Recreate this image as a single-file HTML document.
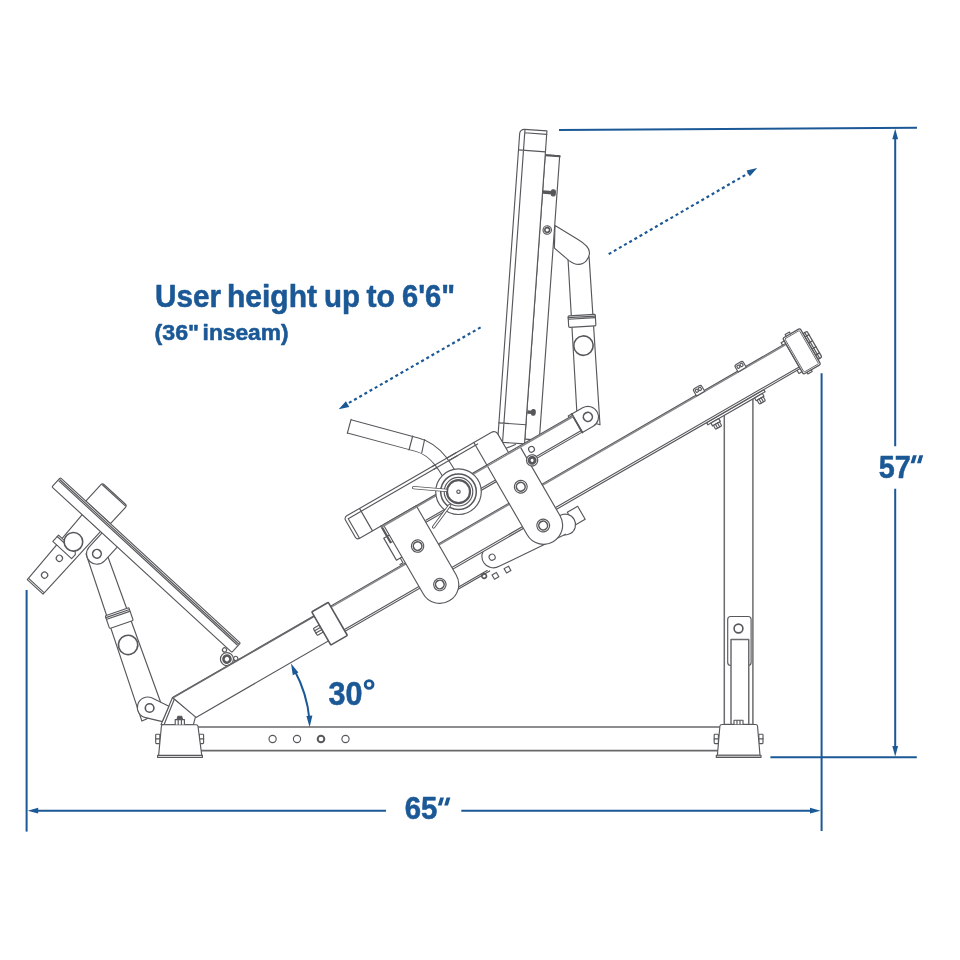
<!DOCTYPE html>
<html>
<head>
<meta charset="utf-8">
<title>Leg press dimensions</title>
<style>
html,body{margin:0;padding:0;background:#fff;}
body{width:960px;height:960px;overflow:hidden;font-family:"Liberation Sans",sans-serif;}
svg{display:block;will-change:transform;}
.g{stroke:#57585c;stroke-width:1.15;fill:#fff;stroke-linejoin:round;stroke-linecap:round;}
.n{fill:none;}
.t{stroke-width:1.6;}
.d{fill:#55565a;}
.b{stroke:#1b5896;stroke-width:2;fill:none;}
.bf{fill:#1b5896;stroke:none;}
text{font-family:"Liberation Sans",sans-serif;font-weight:bold;fill:#1b5896;stroke:#1b5896;stroke-width:.55;stroke-linejoin:round;}
</style>
</head>
<body>
<svg width="960" height="960" viewBox="0 0 960 960">
<rect width="960" height="960" fill="#fff"/>

<!-- ================= MACHINE ================= -->
<g class="g" id="machine">

<!-- base tube -->
<g id="base">
<rect x="196" y="727" width="527" height="23.7" style="stroke-width:1.7;stroke:#68686b"/>
<circle cx="272.6" cy="739" r="3.6"/><circle cx="297" cy="739" r="3.6"/>
<circle cx="321" cy="739" r="3.3" style="stroke-width:2"/><circle cx="345.5" cy="739" r="3.6"/>
</g>

<!-- rear upright -->
<g id="upright">
<path d="M724.3,724.4V412L752.9,395.5V724.4Z" style="stroke-width:1.5;stroke:#6c6c6f"/>
<rect x="727.7" y="616.5" width="23.4" height="49" rx="3"/>
<rect x="731" y="639.4" width="17.75" height="85" style="stroke-width:1.5;stroke:#6c6c6f"/>
<circle cx="738.5" cy="628.5" r="4.4" class="t"/>
</g>

<!-- feet -->
<g id="feet">
<!-- left gusset + rail end -->
<path d="M172.5,697.5L195.6,716.4L193.4,724.6H161Z"/>
<path class="n" d="M174.3,699.3L164.3,724"/>
<!-- left foot -->
<rect x="155.7" y="734.2" width="4.2" height="9.4" rx="0.8"/><rect x="199.4" y="734.2" width="4.2" height="9.4" rx="0.8"/><path class="n" d="M155.7,738.9H159.5M199.8,738.9H203.6"/>
<path d="M163.2,724.7H196.2Q197.8,724.7 198,726.3L201.8,755.6H158.6L161.4,726.3Q161.6,724.7 163.2,724.7Z"/>
<rect x="157.6" y="755.4" width="44.8" height="2.1" style="fill:#dcdcdc"/>
<path d="M175.2,724.4V719.6H184.4V724.4M178.2,719.6V724.4M181.4,719.6V724.4"/>
<path class="d" d="M177,719.4L178,716.2H181.6L182.6,719.4Z"/>
<!-- right foot -->
<rect x="714.2" y="734.2" width="4.2" height="9.4" rx="0.8"/><rect x="758.8" y="734.2" width="4.2" height="9.4" rx="0.8"/><path class="n" d="M714.2,738.9H718M759.2,738.9H763"/>
<path d="M722,724.5H755.7Q757.3,724.5 757.5,726L760,755.2H717.4L719.9,726Q720.2,724.5 722,724.5Z"/>
<rect x="716.3" y="755.2" width="44.7" height="2.2" style="fill:#dcdcdc"/>
<path d="M734,724.2V720.2H743V724.2M737,720.2V724.2M740,720.2V724.2"/>
</g>

<!-- footplate assembly -->
<g id="footplate">
<!-- link arm lug..pivot -->
<path d="M86,553.8H106.8L162,706L146.5,719L141.9,721.1Z"/>
<g transform="translate(96.9,553.8) rotate(-18.9)">
<rect x="-12.2" y="61.3" width="25" height="13.5" rx="1"/>
<path class="n" d="M-12.2,63.3H12.8M-11.8,65.1H12.4"/>
<circle cx="0" cy="96.3" r="9.7" class="t"/>
</g>
<!-- pivot ear -->
<path d="M168.9,706.3L151.7,697.8A10.4,10.4 0 1 0 145.6,717.6L162.3,721.6Z"/>
<circle cx="149.6" cy="708" r="4.3" class="t"/>
<!-- plate frame -->
<g transform="translate(60.4,477.7) rotate(42.6)">
<!-- rear tube -->
<path d="M41,12H66V97.4H44.6Z"/>
<path class="n" d="M45.5,95.6H65"/>
<circle cx="53.8" cy="60" r="3.1"/><circle cx="54.3" cy="82.4" r="3.1"/>
<path d="M37.5,43.5H60L63,46.5V52H37.5Z"/>
<path class="n" d="M37.5,45.4H58.5"/>
<circle cx="53" cy="38.4" r="9.3" class="t"/>
<!-- lug -->
<path d="M68,12V31.3A10.4,10.4 0 0 0 88.8,31.3V12Z"/>
<circle cx="78.4" cy="31.3" r="4.3" class="t"/>
<!-- top block -->
<path d="M34.5,0V-22A2.5,2.5 0 0 1 37,-24.5H65.5A2.5,2.5 0 0 1 68,-22V0Z"/>
<path class="n" d="M36,-23.2H66.8"/>
<!-- plate -->
<circle cx="237.4" cy="15.7" r="2.1"/><circle cx="251.4" cy="14.4" r="2.1"/>
<rect x="0" y="0" width="244.4" height="12.5" rx="1"/>
<path class="n" d="M1,1.8H243.4M1,3.4H243.4"/>
<!-- roller -->
<circle cx="245.4" cy="20.8" r="6.5" style="stroke-width:1.2"/><circle cx="245.4" cy="20.8" r="3.5" style="stroke-width:2.6"/>
</g>
</g>

<!-- back pad assembly -->
<g id="backpad">
<!-- support tube from lug up -->
<path d="M567.9,257L577.2,418L600,424.8L589.1,256.9Z"/>
<g transform="translate(587.7,416.9) rotate(-3.4)">
<rect x="-13.6" y="-102" width="27.2" height="11.6" rx="1"/>
<path class="n" d="M-13.6,-100.2H13.6M-13.2,-98.6H13.2"/>
<circle cx="0" cy="-71.4" r="9.7" class="t"/>
</g>
<!-- elbow stub -->
<path d="M555,225.6L578,239.6C585,243.8 589.6,247.5 589.5,252.6C589.4,259 584.5,264.3 578.6,264.4C575,264.5 572,262.8 569,260.6L554.4,248.1Z"/>
<!-- pad -->
<g transform="translate(520,129) rotate(4.1)">
<rect x="27" y="24" width="14.5" height="285"/>
<path class="n" style="stroke-width:2" d="M27,24.4H41.5"/>
<path d="M1.5,313.8L5,321.5L18,315"/>
<path d="M0,4.5A4.5,4.5 0 0 1 4.5,0H27V313.8H3.2A3.2,3.2 0 0 1 0,310.6Z"/>
<path class="n" d="M5,1V312.8M0,21H27M0,294.6H27M5,3.4H27"/>
<circle cx="34.4" cy="98.8" r="4.2"/><circle cx="34.4" cy="98.8" r="2.4" class="t"/>
<path class="n" style="stroke-width:3.6;stroke-linecap:butt" d="M27,61.3H37"/><rect x="35.8" y="58.3" width="4" height="6" rx="1.6" class="d"/>
<path class="n" style="stroke-width:3.4;stroke-linecap:butt" d="M27.5,281.7H33"/><rect x="31.8" y="278.9" width="3.6" height="5.6" rx="1.6" class="d"/>
</g>
</g>
<!-- rail + carriage (rail frame: x along rail, y perpendicular) -->
<g id="rail" transform="translate(172.5,697.5) rotate(-30)">
<!-- plate under rail at upright -->
<rect x="600" y="29" width="66" height="2.6"/>
<!-- nuts under rail -->
<g id="nutA" transform="translate(0,1.6)"><rect x="603.5" y="30" width="9" height="3.2"/><rect x="604.5" y="33.2" width="7" height="4.6" rx="1"/><path class="n" d="M606.8,33.2V37.8M609.2,33.2V37.8"/></g>
<g transform="translate(50.4,1.6)"><rect x="603.5" y="30" width="9" height="3.2"/><rect x="604.5" y="33.2" width="7" height="4.6" rx="1"/><path class="n" d="M606.8,33.2V37.8M609.2,33.2V37.8"/></g>
<!-- lower link under rail -->
<rect x="434.5" y="37" width="12" height="15"/>
<circle cx="426.5" cy="46.6" r="10.4"/>
<path style="stroke:none" d="M347,26.8A11.5,11.5 0 0 0 348.5,49.7L422,55.1V26.8Z"/><path class="n" d="M347,26.8A11.5,11.5 0 0 0 348.5,49.7L422,55.1"/>
<circle cx="347" cy="38.3" r="3"/>
<rect x="338" y="53.6" width="5" height="5"/><rect x="351.6" y="54.2" width="5" height="5"/>
<circle cx="330.6" cy="50.6" r="2.3" class="t"/>
<path class="n" d="M300,47.4H336M300,49H338"/>
<!-- main rail -->
<path d="M0,0H708V29H10.4Z"/>
<path class="n" style="stroke-width:1.5;stroke:#68686b;stroke-linecap:butt" d="M1,0.5H163.4"/>
<path class="n" style="stroke-width:1.4;stroke:#88888b;stroke-linecap:butt" d="M182.5,1.1H708"/>
<path class="n" d="M182.5,27H708"/>
<!-- tabs on top of upper rail -->
<g transform="translate(0,1.8)"><path d="M604.6,-0.9V-6.4A2,2 0 0 1 606.6,-8.4H612A2,2 0 0 1 614,-6.4V-0.9Z"/><rect x="606.2" y="-6.8" width="2.6" height="3" rx="0.8"/><rect x="609.8" y="-6.8" width="2.6" height="3" rx="0.8"/>
<path d="M652.6,-0.9V-6.4A2,2 0 0 1 654.6,-8.4H660A2,2 0 0 1 662,-6.4V-0.9Z"/><rect x="654.2" y="-6.8" width="2.6" height="3" rx="0.8"/><rect x="657.8" y="-6.8" width="2.6" height="3" rx="0.8"/></g>
<!-- end cap -->
<rect x="728" y="0" width="4.6" height="30" rx="1.5" style="stroke-width:1.3"/>
<path class="n" style="stroke-width:1.3" d="M728,4H732.6M728,11H732.6M728,18H732.6M728,25H732.6M730,0V30"/>
<rect x="708" y="-6" width="20" height="41.6" rx="1.6" style="stroke-width:1.3"/><rect x="709.6" y="-4.4" width="16.8" height="38.4" rx="1" style="stroke-width:.8"/>
<path class="n" d="M708,-3H704.5V0M708,32.6H704.5V29M712,-6V-8H717V-6M712,35.6V37.4H717V35.6"/>
<!-- collar -->
<rect x="156.4" y="10.6" width="7" height="8" rx="1"/><path class="n" d="M156.4,13.3H163.4M156.4,15.9H163.4"/>
<rect x="163.4" y="-4.5" width="19.1" height="38.2" rx="0.8" class="t"/>
<!-- seat sub-frame bar -->
<path d="M266,-44.2H487.5V-25H266Z"/>
<path class="n" d="M308,-26.8H487.5"/>
<!-- lug at end of bar -->
<path d="M487.5,-45.8H500A10.6,10.6 0 0 1 500,-24.6H487.5Z"/>
<path class="n" style="stroke-width:1.8" d="M487.5,-45.8V-24.6"/><path class="n" d="M483.5,-44.2V-46H487.5"/>
<!-- seat pad -->
<path d="M241.7,-70.2H409A4.5,4.5 0 0 1 413.5,-65.7V-44.2H241.7A3.2,3.2 0 0 1 238.5,-47.4V-67A3.2,3.2 0 0 1 241.7,-70.2Z"/>
<path class="n" d="M241.6,-45V-67H391M256.5,-70V-44.6"/>
<!-- small bracket left of left plate -->
<path class="n" d="M268.6,-32.4H262.6V-7H268.6M267,-7V-1.5H263.5"/>
<path class="n" style="stroke-width:1.9" d="M266.6,-44V-25.8"/>
<!-- carriage plates -->
<path d="M269,-44.2V35.7A19,19 0 0 0 307,35.7V-44.2Z"/>
<circle cx="288" cy="-8.6" r="6.2"/><circle cx="288" cy="-8.6" r="4.3" class="t"/>
<circle cx="288" cy="35.8" r="6.2"/><circle cx="288" cy="35.8" r="4.3" class="t"/>
<path style="stroke:none" d="M388.5,-43.6V36.4A19,19 0 0 0 426.5,36.4V-43.6Z"/><path class="n" d="M388.5,-70.2V36.4A19,19 0 0 0 426.5,36.4V-42"/>
<path class="n" style="stroke-width:1.5;stroke:#88888b;stroke-linecap:butt" d="M266,-43H487.5"/>
<circle cx="407" cy="-8.4" r="6.4"/><circle cx="407" cy="-8.4" r="4.4" class="t"/>
<circle cx="407" cy="36.4" r="6.4"/><circle cx="407" cy="36.4" r="4.4" class="t"/>
<circle cx="435" cy="-35.4" r="2.9"/>
<circle cx="430" cy="-25.6" r="5.6"/><circle cx="430" cy="-25.6" r="3" style="stroke-width:3;"/><circle cx="430" cy="-25.6" r="1" style="fill:#fff;stroke:none"/>
<circle cx="500" cy="-35.3" r="4.5" class="t"/>
</g>

<!-- handle + hub (screen coords) -->
<g id="handle">
<path class="n" style="stroke-width:14.6;stroke-linecap:butt" d="M349.2,426.4L417.5,444.8C436,449.5 447,468 458.5,491.7"/>
<path class="n" style="stroke:#fff;stroke-width:12.6;stroke-linecap:butt" d="M349.2,426.4L417.5,444.8C436,449.5 447,468 458.5,491.7"/>
<path class="n" d="M351.1,419.4L347.3,433.4M412.7,436L409,450M424.6,439.5L421.8,452.6"/>
<g transform="translate(172.5,697.5) rotate(-30)"><path class="n" style="stroke-linecap:butt" d="M340,-70.2H368M340,-67H368"/></g>
<circle cx="458.5" cy="491.7" r="22.8"/>
<circle cx="458.5" cy="491.7" r="17.8" style="stroke-width:1.5"/>
<circle cx="458.5" cy="491.7" r="14.3"/>
<circle cx="458.5" cy="491.7" r="11.5" style="stroke-width:2.2"/>
<circle cx="458.5" cy="491.7" r="1.7"/>
<path class="n" style="stroke-width:3.4" d="M413.6,487.6L446,490.4"/>
<path class="n" style="stroke:#fff;stroke-width:1.6" d="M413.6,487.6L446,490.4"/>
<path class="n" style="stroke-width:3.2" d="M449.6,505.4L433.6,527"/>
<path class="n" style="stroke:#fff;stroke-width:1.4" d="M449.6,505.4L433.6,527"/>
</g>


</g>

<!-- ================= DIMENSIONS ================= -->
<g id="dims">
<!-- dimension lines -->
<path class="b" d="M559,130L917,127.8"/>
<path class="b" d="M770.4,757.2H916.8"/>
<path class="b" d="M895.2,137V446.3M895.2,488.7V749"/>
<path class="bf" d="M895.2,128.8L898.1,139.2H892.3Z"/>
<path class="bf" d="M895.2,756.4L898.1,746H892.3Z"/>
<path class="b" d="M821.6,373.3V831"/>
<path class="b" d="M26.6,590V831.6"/>
<path class="b" d="M36,810.7H386M461.3,810.7H812"/>
<path class="bf" d="M27.6,810.7L38.2,807.8V813.6Z"/>
<path class="bf" d="M820.6,810.7L810,807.8V813.6Z"/>
<!-- angle arc -->
<path class="b" d="M294.6,670.5A128,128 0 0 1 309.4,719"/>
<path class="bf" d="M291,663.6L298.4,672.6L292.8,675.2Z"/>
<path class="bf" d="M309.6,727.2L306.4,716L312.4,715.6Z"/>
<!-- dotted arrows -->
<path class="b" style="stroke-width:2.2;stroke-dasharray:3 2.95" d="M480.6,327.4L346,404.6"/>
<path class="bf" transform="translate(338.6,409.3) rotate(150)" d="M0,0L-10.4,3.3V-3.3Z"/>
<path class="b" style="stroke-width:2.2;stroke-dasharray:3 2.95" d="M608.7,254.1L749.5,172.6"/>
<path class="bf" transform="translate(757.2,168.1) rotate(-30)" d="M0,0L-10.4,3.3V-3.3Z"/>
<!-- labels -->
<text id="w1" x="155" y="307.4" font-size="31" textLength="66" lengthAdjust="spacingAndGlyphs">User</text>
<text id="w2" x="227" y="307.4" font-size="31" textLength="90" lengthAdjust="spacingAndGlyphs">height</text>
<text id="w3" x="324" y="307.4" font-size="31" textLength="36" lengthAdjust="spacingAndGlyphs">up</text>
<text id="w4" x="366.5" y="307.4" font-size="31" textLength="28.5" lengthAdjust="spacingAndGlyphs">to</text>
<text id="w5" x="402" y="307.4" font-size="31" textLength="53" lengthAdjust="spacingAndGlyphs">6'6"</text>
<text id="w6" x="154.6" y="340" font-size="22" textLength="44.5" lengthAdjust="spacingAndGlyphs">(36"</text>
<text id="w7" x="202.6" y="340" font-size="22" textLength="86" lengthAdjust="spacingAndGlyphs">inseam)</text>
<text x="328.5" y="704.7" font-size="33" textLength="34" lengthAdjust="spacingAndGlyphs">30</text>
<circle cx="369.1" cy="684.5" r="3.9" style="fill:none;stroke:#1b5896;stroke-width:2.9"/>
<text x="404.8" y="819.3" font-size="31.5" textLength="32.6" lengthAdjust="spacingAndGlyphs">65</text>
<path class="bf" d="M440.2,797.4H444L441.6,805.4H437.8ZM446.6,797.4H450.4L448,805.4H444.2Z"/>
<text x="878.8" y="478" font-size="32" textLength="32" lengthAdjust="spacingAndGlyphs">57</text>
<path class="bf" d="M913,455.2H916.8L914.4,463.2H910.6ZM919.4,455.2H923.2L920.8,463.2H917Z"/>
</g>
</svg>
</body>
</html>
